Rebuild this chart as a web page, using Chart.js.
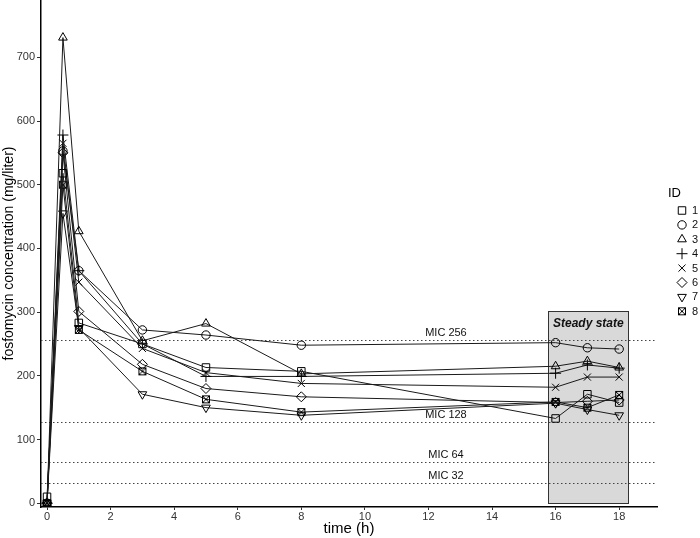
<!DOCTYPE html>
<html><head><meta charset="utf-8">
<script src="https://cdn.jsdelivr.net/npm/chart.js@4/dist/chart.umd.min.js"></script>
<style>html,body{margin:0;padding:0;background:#fff}#wrap{width:700px;height:538px;position:relative}</style>
</head><body><div id="wrap"><canvas id="c" width="700" height="538"></canvas></div>
<script>
// ---- data ----
const times = [0, 0.5, 1, 3, 5, 8, 16, 17, 18];
const ids = ['1', '2', '3', '4', '5', '6', '7', '8'];
const id1 = [10, 518, 283, 250, 213, 207, 133, 171, 158];
const id2 = [0, 553, 365, 272, 264, 248, 252, 244, 242];
const id3 = [0, 731, 427, 255, 282, 203, 215, 223, 213];
const id4 = [0, 578, 365, 250, 199, 199, 204, 217, 212];
const id5 = [0, 565, 347, 243, 205, 188, 182, 198, 198];
const id6 = [0, 550, 301, 218, 180, 167, 158, 160, 162];
const id7 = [0, 455, 275, 171, 150, 138, 157, 147, 138];
const id8 = [0, 500, 272, 207, 163, 143, 159, 150, 170];
const seriesValues = [id1, id2, id3, id4, id5, id6, id7, id8];
const micLevels = [256, 128, 64, 32];
const micLabels = ['MIC 256', 'MIC 128', 'MIC 64', 'MIC 32'];
const micLabelTime = 12.55;
const xTicks = [0, 2, 4, 6, 8, 10, 12, 14, 16, 18];
const yTicks = [0, 100, 200, 300, 400, 500, 600, 700];
const steadyStart = 15.77, steadyEnd = 18.29, steadyTop = 301;
const steadyLabel = 'Steady state';

// ---- styles ----
const FONT = '"Liberation Sans", Arial, sans-serif';
function crossBox() {
  const c = document.createElement('canvas');
  c.width = 10; c.height = 10;
  const g = c.getContext('2d');
  g.strokeStyle = '#000'; g.lineWidth = 1;
  g.strokeRect(1.5, 1.5, 7, 7);
  g.beginPath();
  g.moveTo(1.5, 1.5); g.lineTo(8.5, 8.5);
  g.moveTo(8.5, 1.5); g.lineTo(1.5, 8.5);
  g.stroke();
  return c;
}
const styles = [
  {pointStyle: 'rect', radius: 5.3, rotation: 0},
  {pointStyle: 'circle', radius: 4.2, rotation: 0},
  {pointStyle: 'triangle', radius: 5, rotation: 0},
  {pointStyle: 'cross', radius: 5.5, rotation: 0},
  {pointStyle: 'crossRot', radius: 5, rotation: 0},
  {pointStyle: 'rectRot', radius: 5, rotation: 0},
  {pointStyle: 'triangle', radius: 5, rotation: 180},
  {pointStyle: crossBox(), radius: 5, rotation: 0}
];

const datasets = seriesValues.map((vals, i) => ({
  label: ids[i],
  data: times.map((t, j) => ({x: t, y: vals[j]})),
  borderColor: '#1a1a1a',
  borderWidth: 1,
  pointStyle: styles[i].pointStyle,
  pointRadius: styles[i].radius,
  pointRotation: styles[i].rotation,
  pointBorderColor: '#000',
  pointBackgroundColor: 'rgba(0,0,0,0)',
  pointBorderWidth: 1,
  tension: 0
}));

const annot = {
  id: 'annot',
  beforeDatasetsDraw(chart) {
    const {ctx, chartArea: a, scales: {x, y}} = chart;
    ctx.save();
    ctx.beginPath(); ctx.rect(a.left, a.top, a.right - a.left, a.bottom - a.top); ctx.clip();
    // steady state box
    const bx0 = x.getPixelForValue(steadyStart), bx1 = x.getPixelForValue(steadyEnd);
    const by0 = y.getPixelForValue(steadyTop), by1 = y.getPixelForValue(0);
    ctx.fillStyle = '#d9d9d9';
    ctx.fillRect(bx0, by0, bx1 - bx0, by1 - by0);
    ctx.strokeStyle = '#333'; ctx.lineWidth = 1;
    ctx.strokeRect(Math.round(bx0) + 0.5, Math.round(by0) + 0.5, Math.round(bx1 - bx0), Math.round(by1 - by0));
    ctx.fillStyle = '#111';
    ctx.font = 'italic bold 12px ' + FONT;
    ctx.textAlign = 'center'; ctx.textBaseline = 'middle';
    ctx.fillText(steadyLabel, (bx0 + bx1) / 2, by0 + 12);
    // MIC lines
    ctx.setLineDash([1.5, 2.5]);
    ctx.strokeStyle = '#444'; ctx.lineWidth = 1;
    micLevels.forEach((m) => {
      const py = Math.round(y.getPixelForValue(m)) + 0.5;
      ctx.beginPath(); ctx.moveTo(a.left, py); ctx.lineTo(a.right, py); ctx.stroke();
    });
    ctx.setLineDash([]);
    ctx.fillStyle = '#111';
    ctx.font = '11px ' + FONT;
    micLevels.forEach((m, i) => {
      const py = y.getPixelForValue(m);
      ctx.fillText(micLabels[i], x.getPixelForValue(micLabelTime), py - 7);
    });
    ctx.restore();
  },
  afterDraw(chart) {
    const {ctx} = chart;
    ctx.save();
    ctx.fillStyle = '#000';
    ctx.font = '13px ' + FONT;
    ctx.textAlign = 'left'; ctx.textBaseline = 'middle';
    ctx.fillText('ID', 668, 193);
    ctx.font = '11px ' + FONT;
    chart.data.datasets.forEach((ds, i) => {
      const cy = 210.5 + i * 14.4;
      ctx.strokeStyle = '#000'; ctx.fillStyle = 'rgba(0,0,0,0)'; ctx.lineWidth = 1;
      Chart.helpers.drawPoint(ctx, {pointStyle: ds.pointStyle, radius: ds.pointRadius, rotation: ds.pointRotation, borderWidth: 1}, 682, cy);
      ctx.fillStyle = '#111';
      ctx.fillText(ds.label, 692, cy + 0.5);
    });
    ctx.restore();
  }
};

new Chart(document.getElementById('c'), {
  type: 'line',
  data: {datasets},
  options: {
    responsive: false,
    animation: false,
    devicePixelRatio: 1,
    layout: {autoPadding: false, padding: {left: 0, right: 43, top: 0, bottom: 0}},
    plugins: {legend: {display: false}, tooltip: {enabled: false}},
    scales: {
      x: {
        type: 'linear', min: -0.19, max: 19.19,
        afterBuildTicks: s => { s.ticks = xTicks.map(v => ({value: v})); },
        afterFit: s => { s.height = 31; s.paddingLeft = 0; s.paddingRight = 0; },
        ticks: {font: {size: 11, family: FONT}, color: '#333', padding: 0, maxRotation: 0, autoSkip: false},
        grid: {display: true, drawOnChartArea: false, drawTicks: true, tickLength: 3, color: '#333'},
        border: {display: true, color: '#000', width: 1.5},
        title: {display: true, text: 'time (h)', font: {size: 15, family: FONT}, color: '#000', padding: {top: 0, bottom: 0}}
      },
      y: {
        type: 'linear', min: -6, max: 790,
        afterBuildTicks: s => { s.ticks = yTicks.map(v => ({value: v})); },
        afterFit: s => { s.width = 41; s.paddingTop = 0; s.paddingBottom = 0; },
        ticks: {font: {size: 11, family: FONT}, color: '#333', padding: 2, autoSkip: false},
        grid: {display: true, drawOnChartArea: false, drawTicks: true, tickLength: 4, color: '#333'},
        border: {display: true, color: '#000', width: 1.5},
        title: {display: true, text: 'fosfomycin concentration (mg/liter)', font: {size: 14, family: FONT}, color: '#000', padding: {top: 1, bottom: 0}}
      }
    }
  },
  plugins: [annot]
});
</script>
</body></html>
